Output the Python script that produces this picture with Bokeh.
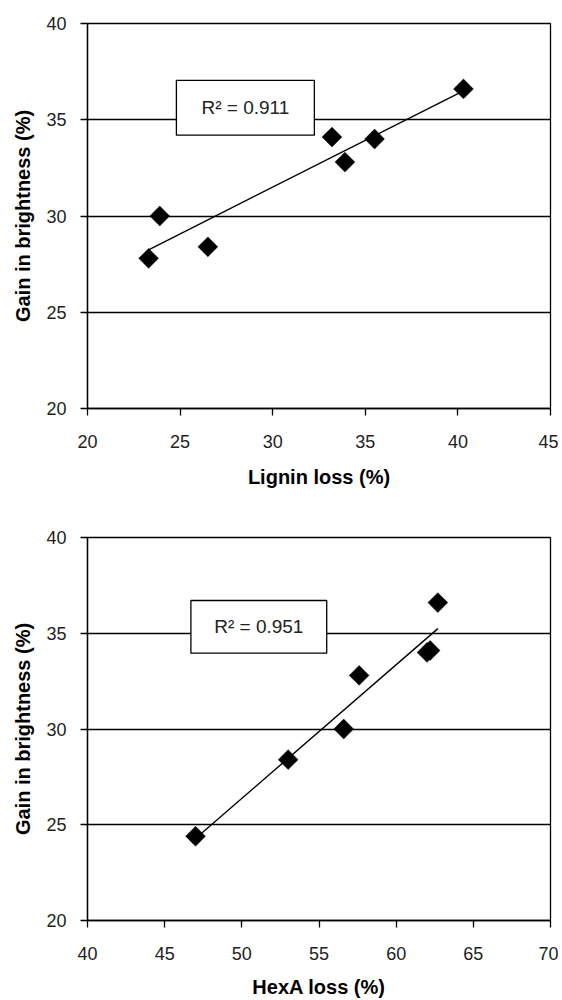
import numpy as np
from bokeh.plotting import figure
from bokeh.layouts import column
from bokeh.models import Range1d, FixedTicker, ColumnDataSource
from bokeh.core.properties import value
from bokeh.embed import file_html
from bokeh.resources import INLINE

# ---- data ----
lignin_loss = [23.3, 23.9, 26.5, 33.2, 33.9, 35.5, 40.3]
gain_lignin = [27.8, 30.0, 28.4, 34.1, 32.8, 34.0, 36.6]
hexa_loss = [47.0, 53.0, 56.6, 57.6, 62.0, 62.2, 62.7]
gain_hexa = [24.4, 28.4, 30.0, 32.8, 34.0, 34.1, 36.6]
r2_lignin = "R² = 0.911"
r2_hexa = "R² = 0.951"
x_ticks_top = [20, 25, 30, 35, 40, 45]
x_ticks_bottom = [40, 45, 50, 55, 60, 65, 70]
y_ticks = [20, 25, 30, 35, 40]

FONT = "Liberation Sans"


def make_plot(x, y, xr, xticks, xlabel, r2text, box, border_top, border_bottom, fh, title_standoff):
    p = figure(output_backend="svg", toolbar_location=None,
               x_range=Range1d(*xr), y_range=Range1d(20, 40),
               frame_width=463, frame_height=fh,
               min_border_left=87, min_border_right=8,
               min_border_top=border_top, min_border_bottom=border_bottom)
    p.background_fill_color = "white"
    p.border_fill_color = "white"
    p.outline_line_color = "black"
    p.outline_line_width = 1.3
    p.xgrid.visible = False
    p.ygrid.grid_line_color = "black"
    p.ygrid.grid_line_width = 1.3
    p.ygrid.grid_line_alpha = 1.0
    p.ygrid.ticker = FixedTicker(ticks=y_ticks)

    for ax in (p.xaxis, p.yaxis):
        ax.axis_line_color = "black"
        ax.axis_line_width = 1.3
        ax.major_tick_line_color = "black"
        ax.major_tick_line_width = 1.3
        ax.major_tick_out = 7
        ax.major_tick_in = 0
        ax.minor_tick_line_color = None
        ax.major_label_text_font = FONT
        ax.major_label_text_font_size = "18px"
        ax.major_label_text_color = "#222222"
        ax.axis_label_text_font = FONT
        ax.axis_label_text_font_size = "20px"
        ax.axis_label_text_font_style = "bold"
        ax.axis_label_text_color = "black"
    p.xaxis.ticker = FixedTicker(ticks=xticks)
    p.yaxis.ticker = FixedTicker(ticks=y_ticks)
    p.xaxis.axis_label = xlabel
    p.yaxis.axis_label = "Gain in brightness (%)"
    p.xaxis.major_label_standoff = 19
    p.xaxis.axis_label_standoff = title_standoff
    p.yaxis.major_label_standoff = 14
    p.yaxis.axis_label_standoff = 9

    # trend line (least squares)
    xs = np.array(x)
    ys = np.array(y)
    k, b = np.polyfit(xs, ys, 1)
    lx = [xs.min(), xs.max()]
    ly = [k * lx[0] + b, k * lx[1] + b]
    p.line(lx, ly, line_color="black", line_width=1.4)

    # R^2 box
    x0, x1, y0, y1 = box
    p.quad(left=[x0], right=[x1], bottom=[y0], top=[y1],
           fill_color="white", line_color="black", line_width=1.3)
    p.text(x=[(x0 + x1) / 2], y=[(y0 + y1) / 2], text=[r2text],
           text_font=value(FONT), text_font_size="19px",
           text_align="center", text_baseline="middle", text_color="#222222")

    # diamonds
    src = ColumnDataSource(dict(x=x, y=y))
    p.scatter("x", "y", source=src, marker="square", angle=np.pi / 4,
              size=14, fill_color="black", line_color="black", line_width=0.5)
    return p


p1 = make_plot(lignin_loss, gain_lignin, (20, 45), x_ticks_top, "Lignin loss (%)",
               r2_lignin, (24.8, 32.25, 34.2, 37.05), 23, 92, 385, 15)
p2 = make_plot(hexa_loss, gain_hexa, (40, 70), x_ticks_bottom, "HexA loss (%)",
               r2_hexa, (46.7, 55.5, 33.96, 36.71), 37, 70, 383, 13)

layout = column(p1, p2, spacing=0)
open("out.html", "w").write(file_html(layout, INLINE))
